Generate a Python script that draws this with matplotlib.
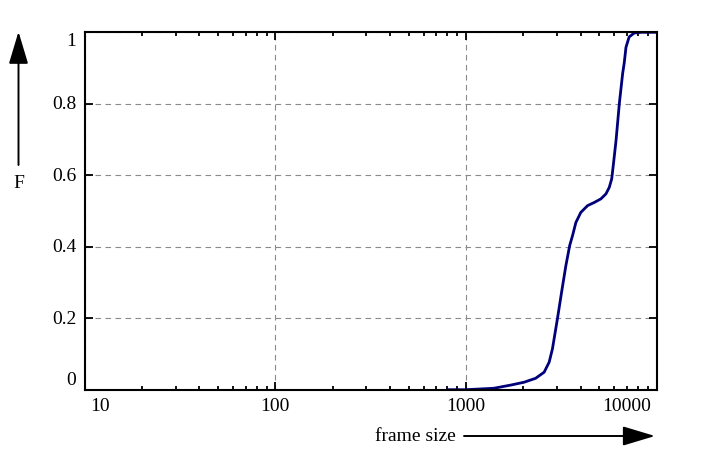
#!/usr/bin/env python3

import matplotlib
matplotlib.use("Agg")
import matplotlib.pyplot as plt
from matplotlib.ticker import LogLocator, NullFormatter, FixedLocator

plt.rcParams['font.family'] = ['Liberation Serif', 'DejaVu Serif']
plt.rcParams['font.size'] = 14

# cumulative distribution of frame sizes
frame_size = [800, 1000, 1400, 1720, 2020, 2320, 2570, 2730, 2840, 3020,
              3170, 3340, 3500, 3620, 3770, 4000, 4340, 4710, 5100, 5420,
              5640, 5810, 5930, 6120, 6370, 6630, 6760, 6900, 7170, 7620,
              8300, 10000]
F = [0.0, 0.0, 0.004, 0.013, 0.021, 0.032, 0.049, 0.077, 0.114, 0.200,
     0.272, 0.347, 0.404, 0.431, 0.468, 0.496, 0.515, 0.524, 0.534, 0.548,
     0.566, 0.590, 0.631, 0.697, 0.801, 0.885, 0.915, 0.958, 0.987, 0.998,
     1.0, 1.0]

xticks = [10, 100, 1000, 10000]
xtick_labels = ["10", "100", "1000", "10000"]
yticks = [0, 0.2, 0.4, 0.6, 0.8, 1]
ytick_labels = ["0", "0.2", "0.4", "0.6", "0.8", "1"]

W, H = 705, 456
fig = plt.figure(figsize=(W / 100, H / 100), dpi=100)
ax = fig.add_axes([84.5 / W, 1 - 390.7 / H, (656.7 - 84.5) / W, (390.7 - 33.3) / H])

ax.plot(frame_size, F, color='#00007a', linewidth=2.0, solid_joinstyle='round')

ax.set_xscale('log')
ax.set_xlim(10, 10000)
ax.set_ylim(0, 1)
ax.xaxis.set_major_locator(FixedLocator(xticks))
ax.xaxis.set_minor_locator(LogLocator(base=10, subs=range(2, 10)))
ax.xaxis.set_minor_formatter(NullFormatter())
ax.yaxis.set_major_locator(FixedLocator(yticks))
ax.set_xticklabels([])
ax.set_yticklabels([])
ax.tick_params(which='both', direction='in', top=True, right=True, width=1.3)
ax.tick_params(which='major', length=5.5)
ax.tick_params(which='minor', length=3)
for s in ax.spines.values():
    s.set_linewidth(1.5)

ax.grid(True, which='major', color='#8a8a8a', linestyle=(0, (5, 4)), linewidth=0.8)

# tick labels, outer ones pulled inwards like the original
for i, (v, lab) in enumerate(zip(xticks, xtick_labels)):
    ha = 'center'
    dx = 0
    if i == 0:
        ha, dx = 'left', 4
    elif i == len(xticks) - 1:
        ha, dx = 'right', -4
    ax.annotate(lab, xy=(v, 0), xycoords=('data', 'axes fraction'),
                xytext=(dx, -5), textcoords='offset points', ha=ha, va='top')
for i, (v, lab) in enumerate(zip(yticks, ytick_labels)):
    dy = 0
    if i == 0:
        dy = 7
    elif i == len(yticks) - 1:
        dy = -6
    ax.annotate(lab, xy=(0, v), xycoords=('axes fraction', 'data'),
                xytext=(-6, dy), textcoords='offset points', ha='right', va='center')

# axis labels with arrows
arrow = dict(arrowstyle='-|>,head_length=0.4,head_width=0.12', mutation_scale=50,
             color='black', lw=1.4, shrinkA=0, shrinkB=0)
fig.text(18.5 / W, 1 - 183 / H, "F", ha='center', va='center')
ax.annotate("", xy=(18.5, H - 32.7), xycoords='figure pixels',
            xytext=(18.5, H - 166), textcoords='figure pixels', arrowprops=arrow)
fig.text(415 / W, 1 - 437 / H, "frame size", ha='center', va='center')
ax.annotate("", xy=(655, H - 437), xycoords='figure pixels',
            xytext=(464, H - 437), textcoords='figure pixels', arrowprops=arrow)

fig.savefig("out.png", dpi=100)
